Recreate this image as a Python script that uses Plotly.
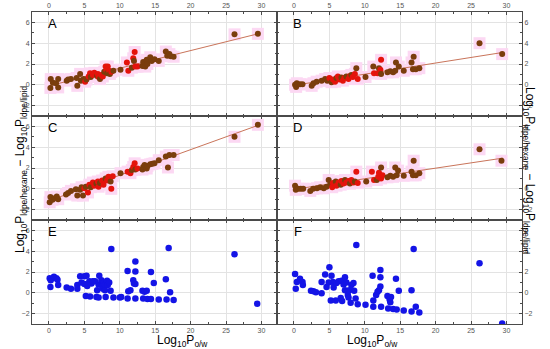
import plotly.graph_objects as go

# ---------------- data ----------------
A_x = [0.2,0.25,0.55,1.0,1.3,1.3,2.5,2.7,3.1,3.9,4.0,4.4,4.5,4.9,5.1,5.3,5.6,5.8,5.9,6.2,6.4,6.8,6.9,7.0,7.2,7.4,7.6,7.8,8.0,8.1,8.2,8.3,8.5,8.6,8.8,9.1,10.1,11.0,11.2,11.7,11.9,12.1,12.0,12.2,12.5,13.2,13.3,13.6,13.8,13.9,14.3,14.5,14.9,15.5,16.5,16.7,17.0,17.2,17.6,26.2,29.5]
A_y = [-0.3,0.55,0.2,0.15,0.55,-0.25,0.4,0.5,0.55,0.65,-0.1,1.05,0.4,0.55,0.3,0.5,0.8,1.1,0.75,0.95,1.15,0.85,1.05,0.75,0.55,0.95,0.8,1.25,1.75,1.4,1.1,1.75,1.35,1.05,1.25,1.35,1.45,2.15,1.35,1.65,2.55,3.15,2.3,1.75,1.75,1.8,2.2,1.75,2.4,2.0,2.65,2.3,2.45,2.3,3.2,2.8,2.95,2.75,2.7,4.85,4.9]
A_line_x = [0.0, 29.5]
A_line_y = [-0.1, 4.9]

B_x = [0.15,0.3,0.4,0.85,1.2,2.5,2.75,3.2,3.9,4.4,4.7,5.0,5.3,5.5,5.8,6.0,6.2,6.4,6.7,6.9,7.1,7.4,7.7,7.9,8.1,8.3,8.6,8.8,9.0,10.1,11.2,11.3,11.8,12.0,12.2,12.3,12.3,13.2,13.6,14.0,14.3,14.4,14.8,15.5,16.6,16.9,16.8,17.2,17.7,26.2,29.4]
B_y = [0.0,-0.2,0.15,0.05,0.05,-0.1,0.15,0.3,0.4,0.55,0.4,0.65,0.25,0.5,0.3,0.65,0.8,0.5,0.7,0.4,0.65,0.8,0.55,0.85,0.95,0.75,1.05,1.6,0.55,0.75,1.75,1.1,1.1,1.6,1.45,2.4,1.05,1.2,1.3,1.2,1.35,2.15,1.75,1.35,2.15,2.7,1.5,1.5,1.6,4.0,2.95]
B_line_x = [0.0, 29.4]
B_line_y = [-0.05, 3.1]

C_x = [0.1,0.2,0.5,0.8,1.1,1.3,2.4,2.7,3.1,3.8,4.0,4.4,4.6,4.8,5.0,5.2,5.5,5.7,5.9,6.2,6.4,6.7,6.9,7.0,7.2,7.5,7.7,8.0,8.2,8.4,8.7,8.8,9.0,10.1,11.1,11.5,11.7,11.9,12.1,12.2,12.5,13.2,13.3,13.5,13.8,13.9,14.3,14.6,14.9,15.5,16.5,16.8,17.0,17.6,26.2,29.5]
C_y = [-1.3,-0.8,-1.05,-0.9,-0.75,-1.0,-0.55,-0.4,-0.2,-0.05,-0.65,-0.1,0.15,-0.65,0.05,0.2,-0.35,0.4,0.15,0.6,0.3,0.5,0.7,0.2,0.55,0.8,0.4,1.0,0.8,1.15,0.7,0.0,1.2,1.5,1.65,1.5,1.8,2.1,2.45,1.85,1.95,1.85,2.1,2.3,1.95,2.2,2.35,2.4,2.45,2.75,3.1,2.05,3.25,3.25,5.0,6.15]
C_line_x = [0.0, 29.5]
C_line_y = [-1.15, 6.1]

D_x = [0.15,0.25,0.6,0.95,1.3,2.3,2.7,3.25,3.7,4.2,4.6,4.9,5.1,5.4,5.5,5.9,6.0,6.3,6.6,6.7,7.0,7.2,7.4,7.7,7.9,8.1,8.4,8.6,8.8,9.0,10.2,11.0,11.3,11.7,11.9,12.0,12.3,12.3,12.5,13.2,13.6,14.0,14.3,14.5,14.7,15.5,16.6,16.9,16.8,17.2,17.7,26.2,29.3]
D_y = [0.3,-0.1,0.0,0.0,0.0,-0.2,0.0,0.05,0.15,0.05,0.2,0.85,0.4,0.15,0.55,0.7,0.3,0.6,0.4,0.75,0.5,0.85,0.6,0.75,0.5,0.85,0.6,0.7,1.65,0.55,0.7,1.65,0.85,0.85,1.15,1.55,2.05,1.0,1.3,1.1,1.25,1.15,2.05,1.3,1.75,1.25,1.65,2.7,1.3,1.3,1.5,3.8,2.7]
D_line_x = [0.0, 29.5]
D_line_y = [-0.05, 2.95]

E_x = [0.1,0.2,0.25,0.7,1.05,1.2,1.3,2.5,3.1,4.0,4.0,4.4,4.6,5.0,5.3,5.0,5.2,5.4,5.8,5.7,6.0,6.2,6.5,6.8,6.7,7.0,7.0,7.1,7.4,7.5,7.6,7.7,7.9,8.0,8.2,8.3,8.5,8.7,8.8,7.9,9.1,10.0,10.2,11.1,11.1,11.2,11.5,11.9,12.0,12.2,12.2,12.2,12.2,13.2,13.3,13.5,13.8,13.9,14.4,14.4,14.8,15.5,16.5,16.6,16.9,17.1,17.6,26.2,29.4]
E_y = [1.4,0.55,1.2,1.55,1.4,1.25,0.75,0.5,0.4,0.75,0.4,1.6,1.0,1.6,1.65,0.85,-0.3,0.65,-0.35,1.1,0.9,1.1,1.1,0.25,-0.4,-0.45,0.8,1.65,1.2,0.65,0.4,0.95,0.75,-0.4,1.15,0.75,1.0,0.2,4.2,0.25,-0.45,-0.45,-0.4,2.1,-0.55,0.15,0.25,1.2,0.9,3.0,2.05,0.85,-0.55,0.2,-0.55,0.1,0.2,-0.6,2.0,-0.6,0.95,-0.65,1.3,-0.65,4.3,0.05,-0.7,3.7,-1.05]

F_x = [0.15,0.25,0.4,0.85,1.2,1.25,2.4,2.75,3.1,3.9,3.9,4.4,4.6,4.9,5.0,5.2,5.3,5.5,5.6,5.9,6.0,6.3,6.6,6.7,6.8,7.0,7.2,7.2,7.4,7.6,7.7,7.8,8.0,8.1,8.4,8.5,8.7,8.8,9.0,10.1,11.1,11.2,11.2,11.6,11.8,12.0,12.2,12.2,12.2,12.3,13.2,13.5,13.6,13.7,13.3,14.0,14.4,14.5,14.8,15.5,16.6,16.6,16.9,17.2,17.7,26.2,29.4]
F_y = [1.8,0.4,1.05,1.35,1.05,0.75,0.2,0.15,0.05,-0.05,1.05,1.75,0.55,1.0,2.45,-0.75,1.65,1.05,0.5,-0.75,0.95,1.1,-0.5,1.15,-0.8,0.8,1.5,0.25,1.0,-0.2,-0.45,0.25,-0.95,0.75,0.95,0.2,-0.55,4.6,-1.1,-1.15,1.65,-0.75,-1.35,-0.2,0.1,0.25,2.2,1.5,0.6,-1.35,-0.3,-0.65,-0.9,-0.4,-1.5,-1.55,1.35,-1.6,0.2,-1.7,0.25,-1.8,4.2,-1.35,-1.9,2.85,-2.95]

panel_labels = ["A", "B", "C", "D", "E", "F"]
x_ticks = [0, 5, 10, 15, 20, 25, 30]
y_ticks = [-2, 0, 2, 4, 6]

# ---------------- styling ----------------
BROWN = "#7a3d0c"
RED = "#e4130c"
BLUE = "#1414e6"
LINE = "#c9745a"
HALO = "#fcd8f3"

W, H = 550, 349
xl = [32 / W, 277 / W]
xr = [277 / W, 522 / W]
rows_px = [(12, 116), (116, 220), (220, 324)]
ydom = [[1 - b / H, 1 - t / H] for (t, b) in rows_px]

fig = go.Figure()

panels = [
    ("A", A_x, A_y, A_line_x, A_line_y, 0, 0),
    ("B", B_x, B_y, B_line_x, B_line_y, 0, 1),
    ("C", C_x, C_y, C_line_x, C_line_y, 1, 0),
    ("D", D_x, D_y, D_line_x, D_line_y, 1, 1),
    ("E", E_x, E_y, None, None, 2, 0),
    ("F", F_x, F_y, None, None, 2, 1),
]

for i, (lab, px, py, lx, ly, r, c) in enumerate(panels):
    n = i + 1
    xa = "x" if n == 1 else f"x{n}"
    ya = "y" if n == 1 else f"y{n}"
    if lx is not None:
        fig.add_trace(go.Scatter(x=px, y=py, xaxis=xa, yaxis=ya, mode="markers",
                                 marker=dict(symbol="square", size=12, color=HALO),
                                 hoverinfo="skip", showlegend=False))
        fig.add_trace(go.Scatter(x=lx, y=ly, xaxis=xa, yaxis=ya, mode="lines",
                                 line=dict(color=LINE, width=1), showlegend=False))
        cols = [RED if (5.0 <= v <= 9.0 or 11.0 <= v <= 12.6) and (k % 3 != 0) else BROWN
                for k, v in enumerate(px)]
        fig.add_trace(go.Scatter(x=px, y=py, xaxis=xa, yaxis=ya, mode="markers",
                                 marker=dict(size=6, color=cols, line=dict(width=0)),
                                 showlegend=False))
    else:
        fig.add_trace(go.Scatter(x=px, y=py, xaxis=xa, yaxis=ya, mode="markers",
                                 marker=dict(size=6.5, color=BLUE, line=dict(width=0)),
                                 showlegend=False))

    xkey = "xaxis" if n == 1 else f"xaxis{n}"
    ykey = "yaxis" if n == 1 else f"yaxis{n}"
    show_x = r in (0, 2)
    fig.update_layout(**{
        xkey: dict(domain=xl if c == 0 else xr, anchor=ya, range=[-2.4, 32.2],
                   tickvals=x_ticks, showticklabels=show_x,
                   side="top" if r == 0 else "bottom",
                   showgrid=True, gridcolor="#e3e3e3", gridwidth=1,
                   showline=True, linecolor="#4a4a4a", linewidth=1, mirror="ticks",
                   ticks="inside", ticklen=3, tickcolor="#4a4a4a",
                   minor=dict(ticks="inside", ticklen=2, tickcolor="#4a4a4a",
                              tick0=0, dtick=2.5, showgrid=False),
                   tickfont=dict(size=7, color="#555", family="Arial"),
                   zeroline=False, fixedrange=True, automargin=False),
        ykey: dict(domain=ydom[r], anchor=xa, range=[-3, 7],
                   tickvals=y_ticks, showticklabels=True,
                   side="left" if c == 0 else "right",
                   showgrid=True, gridcolor="#e3e3e3", gridwidth=1,
                   showline=True, linecolor="#4a4a4a", linewidth=1, mirror="ticks",
                   ticks="inside", ticklen=3, tickcolor="#4a4a4a",
                   minor=dict(ticks="inside", ticklen=2, tickcolor="#4a4a4a",
                              tick0=0, dtick=1, showgrid=False),
                   tickfont=dict(size=7, color="#555", family="Arial"),
                   zeroline=False, fixedrange=True, automargin=False),
    })
    fig.add_annotation(x=0.5, y=5.9, xref=xa, yref=ya, text=lab, showarrow=False,
                       font=dict(size=13, color="black", family="Arial"))

ytitle = "Log<sub>10</sub>P<sub>ldpe/hexane</sub> − Log<sub>10</sub>P<sub>ldpe/lipid</sub>"
fig.add_annotation(x=11 / W, y=1 - 170 / H, xref="paper", yref="paper", text=ytitle,
                   textangle=-90, showarrow=False,
                   font=dict(size=12, color="black", family="Arial"))
fig.add_annotation(x=539 / W, y=1 - 170 / H, xref="paper", yref="paper", text=ytitle,
                   textangle=90, showarrow=False,
                   font=dict(size=12, color="black", family="Arial"))
xtitle = "Log<sub>10</sub>P<sub>o/w</sub>"
for cx in (154.5, 399.5):
    fig.add_annotation(x=cx / W, y=0, xref="paper", yref="paper", text=xtitle,
                       yanchor="bottom", yshift=-2,
                       showarrow=False, font=dict(size=12, color="black", family="Arial"))

fig.update_layout(width=W, height=H, margin=dict(l=0, r=0, t=0, b=0),
                  paper_bgcolor="white", plot_bgcolor="white", showlegend=False)

fig.write_html("out.html", config={"displayModeBar": False},
               post_script="document.body.style.margin='0';document.body.style.overflow='hidden';")
